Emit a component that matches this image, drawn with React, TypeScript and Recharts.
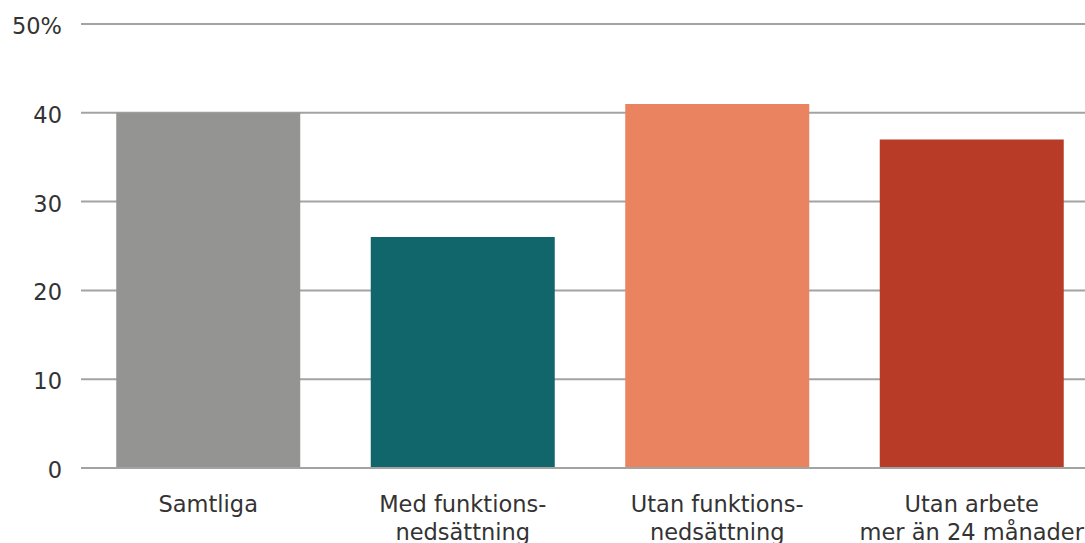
import React from "react";
import { BarChart, Bar, XAxis, YAxis, CartesianGrid, Cell } from "recharts";

const categories = ["Samtliga", "Med funktions-\nnedsättning", "Utan funktions-\nnedsättning", "Utan arbete\nmer än 24 månader"];
const values = [40, 26, 41, 37];
const colors = ["#949592", "#10666B", "#E98360", "#B73B27"];
const yTicks = [0, 10, 20, 30, 40, 50];

const data = categories.map((c, i) => ({ name: c, value: values[i] }));

const FONT = "'DejaVu Sans', sans-serif";

const CategoryTick = (props: any) => {
  const { x, y, payload } = props;
  const lines = String(payload.value).split("\n");
  return (
    <text x={x} y={y} textAnchor="middle" fill="#333333" style={{ fontSize: 22.5, fontFamily: FONT }}>
      {lines.map((l, i) => (
        <tspan key={i} x={x} dy={i === 0 ? 44 : 28}>
          {l}
        </tspan>
      ))}
    </text>
  );
};

const ValueTick = (props: any) => {
  const { x, y, payload } = props;
  const label = payload.value === 50 ? "50%" : String(payload.value);
  return (
    <text x={x} y={y} dy={10} textAnchor="end" fill="#333333" style={{ fontSize: 22.5, fontFamily: FONT }}>
      {label}
    </text>
  );
};

export default function App() {
  return (
    <div style={{ position: "absolute", left: 0, top: 0, width: 1085, height: 543, overflow: "hidden", background: "#fff" }}>
      <BarChart
        width={1099}
        height={543}
        data={data}
        margin={{ top: 24, right: 0, bottom: 0, left: 0 }}
        barCategoryGap="13.85%"
      >
        <CartesianGrid vertical={false} stroke="#a3a3a3" strokeWidth={2} />
        <YAxis
          width={81}
          domain={[0, 50]}
          ticks={yTicks}
          axisLine={false}
          tickLine={false}
          tickSize={0}
          tickMargin={19}
          tick={<ValueTick />}
          interval={0}
        />
        <XAxis
          dataKey="name"
          height={75}
          axisLine={{ stroke: "#a3a3a3", strokeWidth: 2 }}
          tickLine={false}
          tickSize={0}
          tickMargin={0}
          tick={<CategoryTick />}
          interval={0}
        />
        <Bar dataKey="value" isAnimationActive={false}>
          {data.map((d, i) => (
            <Cell key={i} fill={colors[i]} />
          ))}
        </Bar>
      </BarChart>
    </div>
  );
}
